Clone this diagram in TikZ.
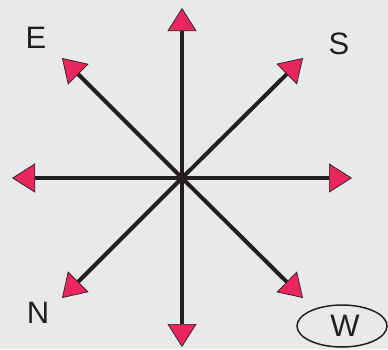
\documentclass[tikz,border=0pt]{standalone}
\usepackage{fontspec}
\setmainfont{Liberation Sans}
\usetikzlibrary{arrows.meta,shapes.geometric}
\definecolor{bgc}{HTML}{E8E9EB}
\definecolor{pinkc}{HTML}{E9265F}
\definecolor{darkc}{HTML}{231F20}
\tikzset{
  ray/.style={line width=4pt, draw=darkc,
    -{Triangle[length=23pt,width=29pt,fill=pinkc,line width=0.7pt]}},
  lbl/.style={font=\fontsize{31}{36}\selectfont, text=darkc, inner sep=0pt},
}
\begin{document}
\begin{tikzpicture}[x=1pt,y=-1pt]
\fill[bgc] (0,0) rectangle (388,349);
\useasboundingbox (0,0) rectangle (388,349);
\coordinate (c) at (182,178);
\coordinate (up) at (182,8);
\coordinate (dn) at (182,347);
\coordinate (lf) at (12,178);
\coordinate (rt) at (352,178);
\coordinate (nw) at (62,58);
\coordinate (ne) at (303,58);
\coordinate (sw) at (62,298);
\coordinate (se) at (303,298);
\foreach \t in {up,dn,lf,rt,nw,ne,sw,se}{\draw[ray] (c) -- (\t);}
\node[lbl] (e) at (36,38) {E};
\node[lbl] (s) at (339,44) {S};
\node[lbl] (n) at (38,313) {N};
\node[draw=darkc, line width=1.5pt, ellipse, minimum width=90pt, minimum height=42pt, inner sep=0pt] (wb) at (342,326) {};
\node[lbl] (w) at (345,326) {W};
\end{tikzpicture}
\end{document}
